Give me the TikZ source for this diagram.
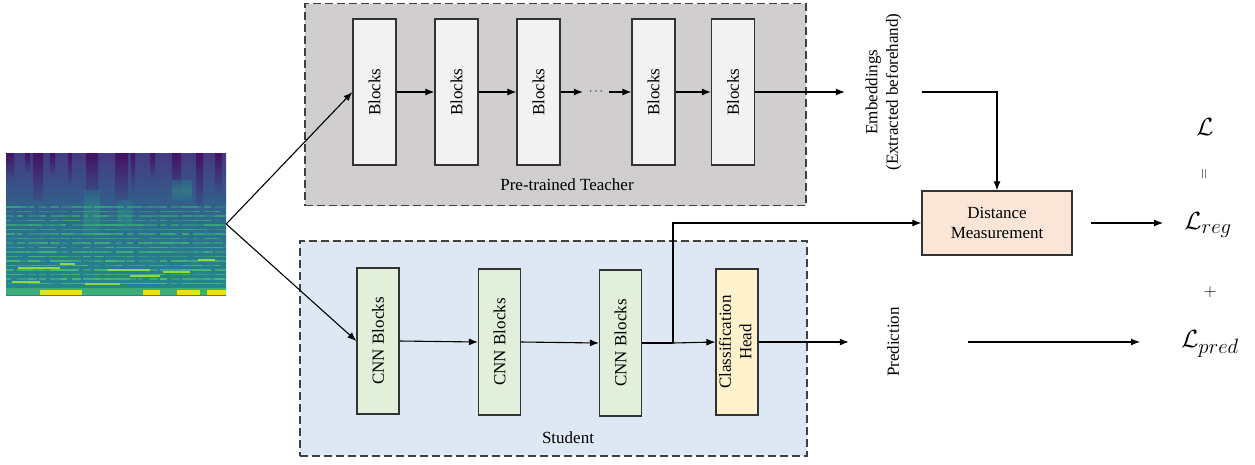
\documentclass[tikz,border=0pt]{standalone}
\usepackage{fontspec}
\setmainfont{Liberation Serif}
\usetikzlibrary{arrows.meta}
\definecolor{tgray}{HTML}{D0CECE}
\definecolor{tblk}{HTML}{F2F2F2}
\definecolor{sblue}{HTML}{DEE8F5}
\definecolor{cnng}{HTML}{E2EFDA}
\definecolor{heady}{HTML}{FFF2CC}
\definecolor{distc}{HTML}{FBE5D6}
\definecolor{vpurp}{HTML}{440154}
\definecolor{vindig}{HTML}{443A83}
\definecolor{vblue}{HTML}{3B528B}
\definecolor{vteal}{HTML}{2C6E8E}
\definecolor{vtealg}{HTML}{23898E}
\definecolor{vgreen}{HTML}{4EC36B}
\definecolor{vlime}{HTML}{8FD744}
\definecolor{vyel}{HTML}{E3E418}
\begin{document}
\begin{tikzpicture}[x=1pt,y=-1pt,
  font=\fontsize{17}{20.5}\selectfont,
  arr/.style={-{Latex[length=9pt,width=7pt]}, line width=1.1pt},
  ln/.style={line width=1.1pt},
  group/.style={draw=black!75, dashed, dash pattern=on 8pt off 4pt, line width=1.4pt, inner sep=0pt},
  tblock/.style={draw=black!80, line width=1.2pt, fill=tblk, minimum width=43pt, minimum height=146pt, inner sep=0pt},
  cblock/.style={draw=black!80, line width=1.2pt, fill=cnng, minimum width=42pt, minimum height=146pt, inner sep=0pt},
  txt/.style={inner sep=0pt},
  bigmath/.style={inner sep=0pt, font=\fontsize{29}{34}\selectfont}]
\useasboundingbox (0,0) rectangle (1255,464);

% groups
\node[group, fill=tgray, minimum width=501pt, minimum height=202pt] (teacher) at (555.5,104.5) {};
\node[group, fill=sblue, minimum width=507pt, minimum height=215pt] (student) at (553.5,348.5) {};
\node[txt] (tlabel) at (567,185) {Pre-trained Teacher};
\node[txt] (slabel) at (568,438) {Student};

% spectrogram
\node[inner sep=0pt, minimum width=220pt, minimum height=142pt, top color=vindig, bottom color=vtealg, middle color=vteal] (spec) at (116,224) {};
\begin{scope}
\clip (spec.south west) rectangle (spec.north east);
\foreach \xa/\xb/\dd in {6/14/180, 25/30/175, 33/43/200, 50/55/178, 68/72/186, 86/98/196, 115/128/200, 131/135/190, 150/155/180, 172/181/196, 196/203/205, 215/222/192}{
  \shade[top color=vpurp, bottom color=vindig!60!vteal, opacity=0.7] (\xa,153) rectangle (\xb,\dd);
}
\foreach \xa/\xb/\ya/\yb in {84/100/190/240, 118/132/200/232, 172/192/180/200}{
  \shade[top color=vteal, bottom color=vteal, middle color=vtealg!70!vgreen, opacity=0.5] (\xa,\ya) rectangle (\xb,\yb);
}
\pgfmathsetseed{11}
\foreach \yy in {207,211.5,216,220.5,225,229.5,234,238.5,243,247.5,252,256.5,261,265.5,270,274.5,279,283.5}{
  \foreach \xx in {6,17,...,220}{
    \pgfmathsetmacro\len{5+rnd*14}
    \pgfmathsetmacro\op{0.35+0.65*rnd}
    \pgfmathsetmacro\mixv{int(40+55*(\yy-205)/80)}
    \draw[line width=1.5pt, vgreen!\mixv!vtealg, opacity=\op] (\xx,\yy) -- ++(\len,0);
  }
}
\fill[vgreen!60!vtealg] (6,288) rectangle (226,295);
\foreach \xa/\xb in {40/82, 143/160, 177/200, 207/226}{
  \fill[vyel] (\xa,290) rectangle (\xb,295);
}
\foreach \xa/\xb/\yy in {18/60/268, 60/75/264, 130/160/276, 108/150/270, 163/190/272, 198/215/260, 12/40/282, 85/120/284}{
  \draw[line width=1.4pt, vlime] (\xa,\yy) -- (\xb,\yy);
}
\end{scope}

% teacher blocks
\node[tblock] (t1) at (374.5,92) {\rotatebox{90}{Blocks}};
\node[tblock] (t2) at (456.5,92) {\rotatebox{90}{Blocks}};
\node[tblock] (t3) at (538.5,92) {\rotatebox{90}{Blocks}};
\node[inner xsep=6pt, inner ysep=0pt, font=\fontsize{13}{15}\selectfont] (dots) at (596,92) {$\cdots$};
\node[tblock] (t4) at (653.5,92) {\rotatebox{90}{Blocks}};
\node[tblock] (t5) at (733,92) {\rotatebox{90}{Blocks}};

% student blocks
\node[cblock] (c1) at (378,341) {\rotatebox{90}{CNN Blocks}};
\node[cblock] (c2) at (499.5,342) {\rotatebox{90}{CNN Blocks}};
\node[cblock] (c3) at (620.5,343) {\rotatebox{90}{CNN Blocks}};
\node[cblock, fill=heady] (head) at (737,342) {\rotatebox{90}{\begin{tabular}{@{}c@{}}Classification\\Head\end{tabular}}};
\coordinate (j) at (673,343);

% right side
\node[inner xsep=18pt, inner ysep=0pt] (emb) at (883.5,92) {\rotatebox{90}{\begin{tabular}{@{}c@{}}Embeddings\\(Extracted beforehand)\end{tabular}}};
\node[draw=black!80, line width=1.2pt, fill=distc, minimum width=150pt, minimum height=64pt, inner sep=0pt, align=center] (dist) at (997,223) {Distance\\Measurement};
\node[inner xsep=38pt, inner ysep=0pt] (pred) at (893,342) {\rotatebox{90}{Prediction}};
\coordinate (pout) at (968,342);
\coordinate (lpin) at (1140,342);

\node[bigmath] (Lsym) at (1205,127) {$\mathcal{L}$};
\node[inner sep=0pt, rotate=90, font=\fontsize{15}{18}\selectfont] (eq) at (1205,174) {$=$};
\node[bigmath] (Lreg) at (1208,225) {$\mathcal{L}_{reg}$};
\node[inner sep=0pt, font=\fontsize{18}{21}\selectfont] (plus) at (1210,292) {$+$};
\node[bigmath] (Lpred) at (1210,344) {$\mathcal{L}_{pred}$};

% connectors
\draw[arr] (spec.east) -- (t1.west);
\draw[arr] (spec.east) -- (c1.west);
\draw[arr] (t1) -- (t2);
\draw[arr] (t2) -- (t3);
\draw[arr] (t3.east) -- (dots.west);
\draw[arr] (dots.east) -- (t4.west);
\draw[arr] (t4) -- (t5);
\draw[arr] (t5.east) -- (emb.west);
\draw[arr] (emb.east) -| (dist.north);
\draw[arr] (c1.east) -- (c2.west);
\draw[arr] (c2.east) -- (c3.west);
\draw[ln] (c3.east) -- (j);
\draw[arr] (j) -- (head.west);
\draw[arr] (j) |- (dist.west);
\draw[arr] (head.east) -- (pred.west);
\draw[arr] ([xshift=18pt]dist.east) -- (1163,223);
\draw[arr] (pout) -- (lpin);
\end{tikzpicture}
\end{document}
